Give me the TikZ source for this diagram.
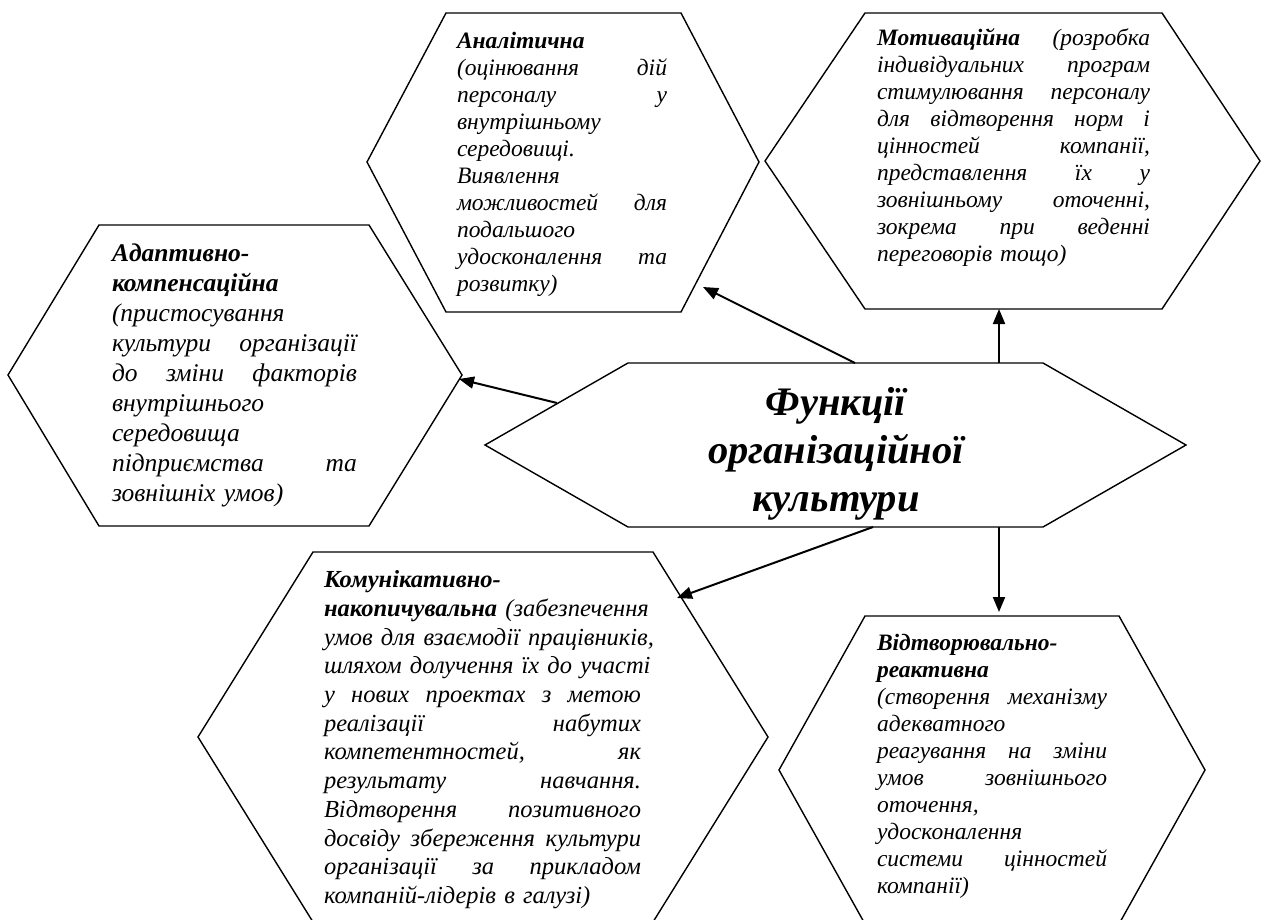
\documentclass[tikz,border=0pt]{standalone}
\usepackage{fontspec}
\setmainfont{Liberation Serif}
\usetikzlibrary{arrows.meta}
\newcommand\jl[1]{\par\hbox to\hsize{\strut #1}}
\newcommand\fl[1]{\par\hbox to\hsize{\strut #1\hfil}}
\newcommand\cl[1]{\par\hbox to\hsize{\hfil\strut #1\hfil}}
\tikzset{
  hexa/.style={draw=black, line width=1.4pt, line join=miter},
  conn/.style={draw=black, line width=2pt, -{Triangle[length=15pt,width=12pt]}},
  txt/.style={anchor=north west, inner sep=0pt, outer sep=0pt},
  fsA/.style={font=\fontsize{23.5}{27}\selectfont\itshape},
  fsB/.style={font=\fontsize{25.5}{30}\selectfont\itshape},
  fsC/.style={font=\fontsize{24.5}{28.7}\selectfont\itshape},
  fsD/.style={font=\fontsize{40.5}{48}\selectfont\bfseries\itshape},
}
\begin{document}
\begin{tikzpicture}[x=1pt,y=-1pt]
\useasboundingbox (0,0) rectangle (1261,920);
\fill[white] (0,0) rectangle (1261,920);
\clip (0,0) rectangle (1261,920);

% hexagons
\draw[hexa] (367,162) -- (446,13) -- (681,13) -- (759,162) -- (681,312) -- (446,312) -- cycle;
\draw[hexa] (765,161) -- (865,13) -- (1162,13) -- (1260,161) -- (1162,309) -- (865,309) -- cycle;
\draw[hexa] (8,375) -- (99,225) -- (369,225) -- (462,375) -- (369,526) -- (99,526) -- cycle;
\draw[hexa] (485,445) -- (628,363) -- (1043,363) -- (1186,445) -- (1043,527) -- (628,527) -- cycle;
\draw[hexa] (198,737) -- (313,552) -- (653,552) -- (768,737) -- (653,922) -- (313,922) -- cycle;
\draw[hexa] (779,770) -- (865,616) -- (1119,616) -- (1205,770) -- (1119,924) -- (865,924) -- cycle;

% texts
\node[txt, fsA, text width=210pt] (analit) at (457,22) {%
\fl{\textbf{Аналітична}}
\jl{(оцінювання \hfil дій}
\jl{персоналу \hfil у}
\fl{внутрішньому}
\fl{середовищі.}
\fl{Виявлення}
\jl{можливостей \hfil для}
\fl{подальшого}
\jl{удосконалення \hfil та}
\fl{розвитку)}};

\node[txt, fsA, text width=273pt] (motiv) at (877,19) {%
\jl{\textbf{Мотиваційна} \hfil (розробка}
\jl{індивідуальних \hfil програм}
\jl{стимулювання \hfil персоналу}
\jl{для \hfil відтворення \hfil норм \hfil і}
\jl{цінностей \hfil компанії,}
\jl{представлення \hfil їх \hfil у}
\jl{зовнішньому \hfil оточенні,}
\jl{зокрема \hfil при \hfil веденні}
\fl{переговорів тощо)}};

\node[txt, fsB, text width=245pt] (adapt) at (112,232) {%
\fl{\textbf{Адаптивно-}}
\fl{\textbf{компенсаційна}}
\fl{(пристосування}
\jl{культури \hfil організації}
\jl{до \hfil зміни \hfil факторів}
\fl{внутрішнього}
\fl{середовища}
\jl{підприємства \hfil та}
\fl{зовнішніх умов)}};

\node[txt, fsD, text width=400pt] (center) at (636,367) {%
\cl{Функції}
\cl{організаційної}
\cl{культури}};

\node[txt, fsC, text width=317pt] (komun) at (324,559) {%
\fl{\textbf{Комунікативно-}}
\jl{\textbf{накопичувальна} \hfil (забезпечення}
\jl{умов \hfil для \hfil взаємодії \hfil працівників,}
\jl{шляхом \hfil долучення \hfil їх \hfil до \hfil участі}
\jl{у \hfil нових \hfil проектах \hfil з \hfil метою}
\jl{реалізації \hfil набутих}
\jl{компетентностей, \hfil як}
\jl{результату \hfil навчання.}
\jl{Відтворення \hfil позитивного}
\jl{досвіду \hfil збереження \hfil культури}
\jl{організації \hfil за \hfil прикладом}
\fl{компаній-лідерів в галузі)}};

\node[txt, fsA, text width=230pt] (vidtv) at (877,623) {%
\fl{\textbf{Відтворювально-}}
\fl{\textbf{реактивна}}
\jl{(створення \hfil механізму}
\fl{адекватного}
\jl{реагування \hfil на \hfil зміни}
\jl{умов \hfil зовнішнього}
\fl{оточення,}
\fl{удосконалення}
\jl{системи \hfil цінностей}
\fl{компанії)}};

% connector end points
\coordinate (sA) at (855,363);
\coordinate (eA) at (703,287);
\coordinate (sM) at (999,363);
\coordinate (eM) at (999,309);
\coordinate (sAd) at (557,403);
\coordinate (eAd) at (459,379);
\coordinate (sK) at (873,527);
\coordinate (eK) at (677,598);
\coordinate (sV) at (999,527);
\coordinate (eV) at (999,612);

\draw[conn] (sA) -- (eA);
\draw[conn] (sM) -- (eM);
\draw[conn] (sAd) -- (eAd);
\draw[conn] (sK) -- (eK);
\draw[conn] (sV) -- (eV);
\end{tikzpicture}
\end{document}
